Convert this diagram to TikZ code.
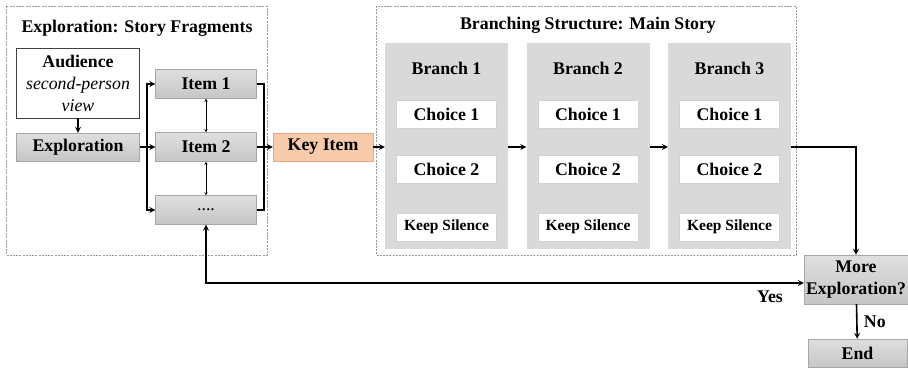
\documentclass[tikz,border=0pt]{standalone}
\usepackage{fontspec}
\setmainfont{Liberation Serif}
\definecolor{keyfill}{HTML}{F8CBAD}
\definecolor{keyline}{HTML}{E9A77F}
\definecolor{panelfill}{HTML}{D9D9D9}
\tikzset{
  txt/.style={font=\fontsize{17.8}{22}\selectfont\bfseries},
  frame/.style={draw=gray!80, line width=0.9pt, dash pattern=on 2pt off 1.2pt},
  graybox/.style={txt, draw=gray!70, top color=gray!25, bottom color=gray!45,
    inner sep=0pt, minimum width=101pt, minimum height=29pt},
  choicebox/.style={txt, draw=gray!35, fill=white, inner sep=0pt,
    minimum width=100pt, minimum height=28pt},
  panel/.style={fill=panelfill, inner sep=0pt, minimum width=123pt, minimum height=206pt},
  link/.style={line width=1.6pt, -stealth},
}
\begin{document}
\begin{tikzpicture}[x=1pt,y=-1pt]
   \useasboundingbox (0,0) rectangle (908,368);
   % left frame
   \draw[frame] (6,6) rectangle (267,255);
   \node[txt] (fragtitle) at (137,28) {Exploration: Story Fragments};
   \node[txt, draw=black!75, fill=white, align=center, inner sep=0pt,
         minimum width=123pt, minimum height=70pt] (audience) at (78,83)
         {Audience\\{\normalfont\itshape second-person}\\{\normalfont\itshape view}};
   \node[graybox, minimum width=123pt, minimum height=28pt] (explore) at (78,147) {Exploration};
   \node[graybox] (item1) at (206,84) {Item 1};
   \node[graybox] (item2) at (206,147) {Item 2};
   \node[graybox] (itemn) at (206,210) {\normalfont ....};
   \node[txt, draw=keyline, fill=keyfill, inner sep=0pt,
         minimum width=100pt, minimum height=28pt] (keyitem) at (323,147) {Key Item};
   \coordinate (forkL) at (147,147);
   \coordinate (forkR) at (264,147);
   \draw[link] (audience) -- (explore);
   \draw[line width=1.6pt] (explore) -- (forkL);
   \draw[link] (forkL) |- (item1);
   \draw[link] (forkL) -- (item2);
   \draw[link] (forkL) |- (itemn);
   \draw[thin, stealth-stealth] (item1) -- (item2);
   \draw[thin, stealth-stealth] (item2) -- (itemn);
   \draw[line width=1.6pt] (item1.east) -| (forkR) |- (itemn.east);
   \draw[link] (item2) -- (keyitem);
   % right frame
   \draw[frame] (376,6) rectangle (796,255);
   \node[txt] (maintitle) at (588,25) {Branching Structure: Main Story};
   \foreach \i/\x in {1/446.5, 2/588, 3/729.5} {
      \node[panel] (branch\i) at (\x,146) {};
      \node[txt] (btitle\i) at (\x,68) {Branch \i};
      \node[choicebox] (choiceA\i) at (\x,114) {Choice 1};
      \node[choicebox] (choiceB\i) at (\x,169) {Choice 2};
      \node[choicebox, font=\fontsize{15.5}{18}\selectfont\bfseries] (silent\i) at (\x,227) {Keep Silence};
   }
   \draw[link] (keyitem) -- (branch1.west |- keyitem);
   \draw[link] (branch1.east |- keyitem) -- (branch2.west |- keyitem);
   \draw[link] (branch2.east |- keyitem) -- (branch3.west |- keyitem);
   % loop back
   \node[graybox, align=center, minimum width=104pt, minimum height=49pt] (more) at (856,279.5)
        {More\\Exploration?};
   \node[graybox, minimum width=99pt, minimum height=28pt] (finish) at (857.5,353) {End};
   \draw[link] (branch3.east |- keyitem) -| (more.north);
   \draw[link] (more) -- node[txt, right=3pt] (nolabel) {No} (finish);
   \draw[line width=1.6pt, stealth-stealth] (itemn.south) |- (more.west |- 0,283);
   \node[txt] (yeslabel) at (770,297) {Yes};
\end{tikzpicture}
\end{document}
